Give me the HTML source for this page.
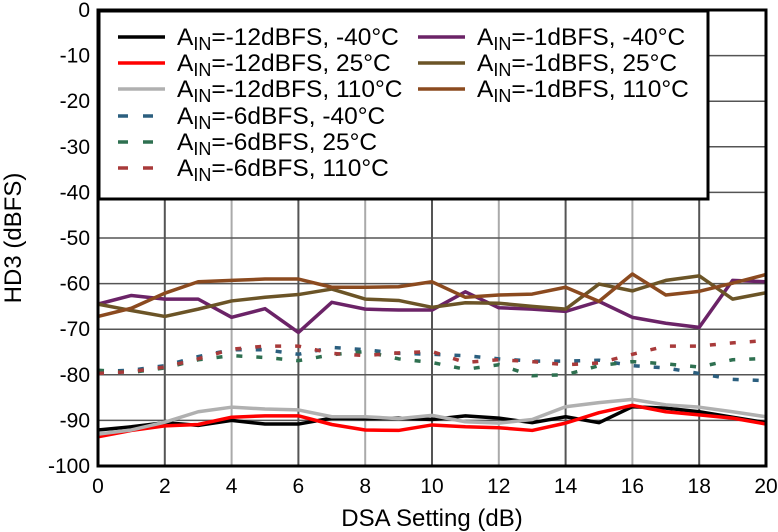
<!DOCTYPE html>
<html><head><meta charset="utf-8"><style>
body{margin:0;background:#fff;}
svg{display:block;font-family:"Liberation Sans",sans-serif;}
</style></head><body>
<svg id="chart" width="778" height="532">
<g id="grid"></g><g id="series"></g><g id="axes"></g><g id="legend"></g>
</svg>
<script>
const xTicks=[0,2,4,6,8,10,12,14,16,18,20];
const yTicks=[0,-10,-20,-30,-40,-50,-60,-70,-80,-90,-100];
const dsa=[0,1,2,3,4,5,6,7,8,9,10,11,12,13,14,15,16,17,18,19,20];
const m12n40=[-92.1,-91.4,-90.5,-91.1,-90,-90.8,-90.8,-89.5,-89.6,-89.5,-89.8,-89,-89.5,-90.5,-89.2,-90.5,-87,-87.3,-88.1,-89.3,-90.5];
const m12p25=[-93.6,-92.2,-91.2,-90.9,-89.3,-89,-89,-90.9,-92.1,-92.2,-91,-91.4,-91.6,-92.2,-90.6,-88.3,-86.7,-88.1,-88.8,-89.5,-90.8];
const m12p110=[-93,-92.1,-90.4,-88.1,-87.1,-87.5,-87.7,-89.2,-89.2,-89.6,-88.9,-90.3,-90.6,-89.8,-87,-86.1,-85.4,-86.6,-87.1,-88.1,-89.2];
const m6n40=[-79.3,-79,-78,-76,-74.5,-74.5,-75.5,-74,-74.5,-75.3,-75.5,-75.8,-76.5,-77,-77,-76.8,-78,-78.5,-79.7,-81,-81.3];
const m6p25=[-79,-79.5,-78.5,-76.7,-75.8,-76.2,-76.9,-75.6,-74.9,-76.5,-77.3,-78.8,-77.8,-80.2,-80,-78,-77.1,-77.6,-78.3,-76.7,-76.4];
const m6p110=[-79.7,-79.3,-78.3,-76.5,-74.4,-73.7,-73.7,-75.3,-75.8,-75.2,-74.9,-77.3,-76.7,-77.1,-77.8,-77.4,-75.5,-73.7,-73.7,-73,-72.5];
const m1n40=[-64.5,-62.6,-63.4,-63.4,-67.4,-65.5,-70.7,-64.1,-65.6,-65.8,-65.8,-61.8,-65.3,-65.6,-66.1,-63.9,-67.4,-68.7,-69.6,-59.3,-59.6];
const m1p25=[-64.5,-65.9,-67.2,-65.6,-63.8,-63,-62.4,-61.2,-63.4,-63.7,-65.2,-64.2,-64.3,-65,-65.6,-60.1,-61.6,-59.3,-58.3,-63.4,-62];
const m1p110=[-67.2,-65.4,-62.1,-59.6,-59.3,-59,-59,-60.8,-60.8,-60.7,-59.6,-63,-62.5,-62.3,-60.8,-63.9,-57.9,-62.5,-61.7,-59.9,-58];

const X0=98,X1=766,Y0=10,Y1=466;
const xs=v=>X0+(v-0)/20*(X1-X0);
const ys=v=>Y0+(0-v)/100*(Y1-Y0);
const NS="http://www.w3.org/2000/svg";
function mk(tag,attrs,parent){const e=document.createElementNS(NS,tag);for(const k in attrs)e.setAttribute(k,attrs[k]);parent.appendChild(e);return e;}
const grid=document.getElementById('grid'),axes=document.getElementById('axes'),ser=document.getElementById('series'),leg=document.getElementById('legend');

xTicks.forEach((t,i)=>{
  const l=mk('line',{x1:xs(t),x2:xs(t),y1:Y0,y2:Y1,stroke:i%2?'#555':'#aaa','stroke-width':2},grid);
  
  
  const tx=mk('text',{x:xs(t),y:493,'font-size':21,'text-anchor':'middle'},axes);
  tx.textContent=t;
  
  
});
yTicks.forEach(t=>{
  const l=mk('line',{x1:X0,x2:X1,y1:ys(t),y2:ys(t),stroke:'#555','stroke-width':1.5},grid);
  
  
  const tx=mk('text',{x:90,y:ys(t)+7,'font-size':21,'text-anchor':'end'},axes);
  tx.textContent=t;
  
  
});

const series=[
 [m12n40,'#000',null,'ain-12-m40'],[m12p25,'#ff0000',null,'ain-12-25'],[m12p110,'#b0b0b0',null,'ain-12-110'],
 [m6n40,'#2b5f7f','6 14','ain-6-m40'],[m6p25,'#2e7050','6 14','ain-6-25'],[m6p110,'#a83a3a','6 14','ain-6-110'],
 [m1n40,'#6b2367',null,'ain-1-m40'],[m1p25,'#6b5427',null,'ain-1-25'],[m1p110,'#8b4a1f',null,'ain-1-110']];
series.forEach(s=>{
  const pts=dsa.map((d,i)=>xs(d)+','+ys(s[0][i])).join(' ');
  const a={points:pts,fill:'none',stroke:s[1],'stroke-width':3.5,'stroke-linejoin':'round'};
  if(s[2])a['stroke-dasharray']=s[2];
  const p=mk('polyline',a,ser);
  
  
});

const fr=mk('rect',{x:X0,y:Y0,width:X1-X0,height:Y1-Y0,fill:'none',stroke:'#000','stroke-width':3},axes);



const lb=mk('rect',{x:99,y:11,width:609,height:188,fill:'#fff',stroke:'#000','stroke-width':3},leg);


const legItems=[
 [118,37,'#000',null,'-12dBFS, -40°C'],[118,63,'#ff0000',null,'-12dBFS, 25°C'],[118,89,'#b0b0b0',null,'-12dBFS, 110°C'],
 [118,116,'#2b5f7f','10 15','-6dBFS, -40°C'],[118,142,'#2e7050','10 15','-6dBFS, 25°C'],[118,168,'#a83a3a','10 15','-6dBFS, 110°C'],
 [418,37,'#6b2367',null,'-1dBFS, -40°C'],[418,63,'#6b5427',null,'-1dBFS, 25°C'],[418,89,'#8b4a1f',null,'-1dBFS, 110°C']];
legItems.forEach(it=>{
  const g=mk('g',{},leg);
  
  
  const a={x1:it[0],x2:it[0]+47,y1:it[1],y2:it[1],stroke:it[2],'stroke-width':3.5};
  if(it[3])a['stroke-dasharray']=it[3];
  mk('line',a,g);
  const t=mk('text',{x:it[0]+59,y:it[1]+8,'font-size':24.5},g);
  t.innerHTML='A<tspan font-size="18" dy="5">IN</tspan><tspan dy="-5">='+it[4]+'</tspan>';
});

const xt=mk('text',{x:432,y:526,'font-size':24,'text-anchor':'middle'},axes);
xt.textContent='DSA Setting (dB)';


const yt=mk('text',{x:0,y:0,'font-size':24,'text-anchor':'middle',transform:'translate(21,238) rotate(-90)'},axes);
yt.textContent='HD3 (dBFS)';


</script>
</body></html>
